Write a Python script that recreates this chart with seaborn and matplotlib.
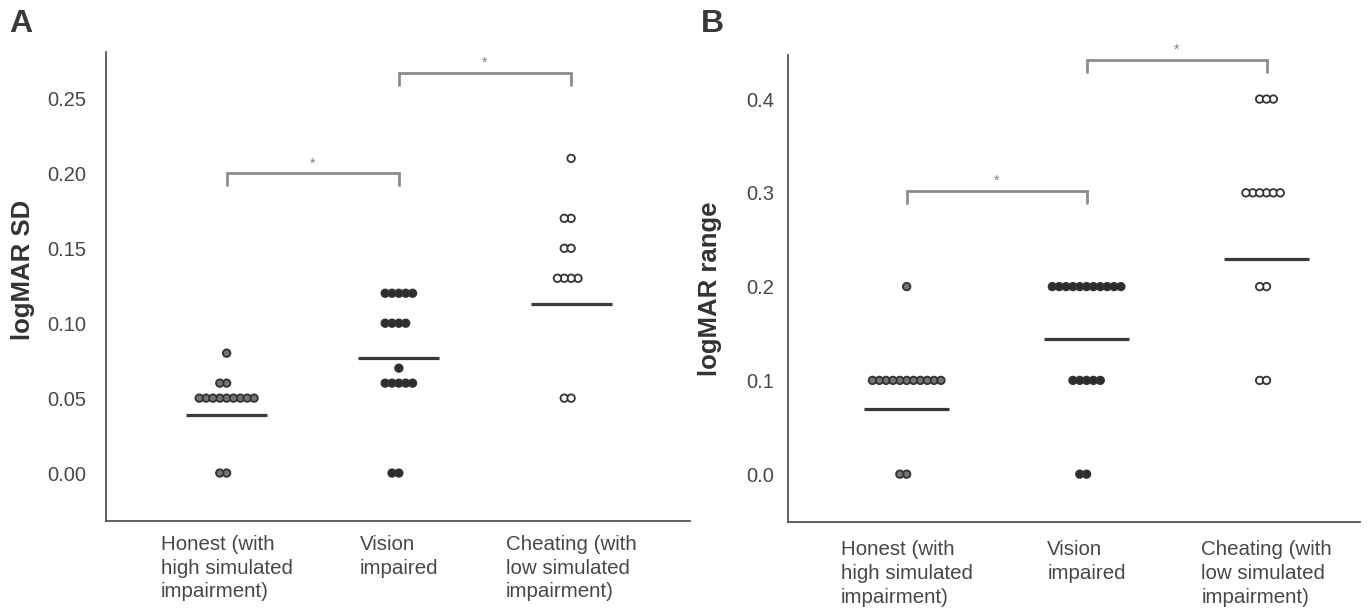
import numpy as np
import pandas as pd
import matplotlib
matplotlib.use("Agg")
import matplotlib.pyplot as plt
from matplotlib.collections import PathCollection
import seaborn as sns

# group names (x tick labels)
groups = ["Honest (with\nhigh simulated\nimpairment)", "Vision\nimpaired",
          "Cheating (with\nlow simulated\nimpairment)"]

# Panel A: logMAR SD per participant
sd_honest = [0.08] + [0.06] * 2 + [0.05] * 9 + [0.00] * 2
sd_vision = [0.12] * 5 + [0.10] * 4 + [0.07] + [0.06] * 5 + [0.00] * 2
sd_cheat = [0.21] + [0.17] * 2 + [0.15] * 2 + [0.13] * 4 + [0.05] * 2
sd_means = [0.039, 0.077, 0.113]

# Panel B: logMAR range per participant
rng_honest = [0.2] + [0.1] * 11 + [0.0] * 2
rng_vision = [0.2] * 11 + [0.1] * 5 + [0.0] * 2
rng_cheat = [0.4] * 3 + [0.3] * 6 + [0.2] * 2 + [0.1] * 2
rng_means = [0.070, 0.144, 0.229]

# significance brackets: (group i, group j, height)
sd_brackets = [(0, 1, 0.200), (1, 2, 0.267)]
rng_brackets = [(0, 1, 0.302), (1, 2, 0.442)]

fills = {groups[0]: "#737373", groups[1]: "#302c2c", groups[2]: "white"}

sns.set_theme(style="white")
plt.rcParams["font.family"] = ["Liberation Sans", "DejaVu Sans"]


def long_form(values_per_group):
    rows = []
    for g, vals in zip(groups, values_per_group):
        rows += [(g, v) for v in vals]
    return pd.DataFrame(rows, columns=["group", "value"])


def draw_panel(ax, df, means, brackets, ylabel, ylim, yticks, fmt, tick_d, xlim):
    # small markers so the swarm packs tightly; enlarged after layout
    sns.swarmplot(data=df, x="group", y="value", hue="group", order=groups,
                  palette=fills, size=3.7, edgecolor="#333333", linewidth=1.0,
                  legend=False, ax=ax)
    for i, m in enumerate(means):
        ax.hlines(m, i - 0.235, i + 0.235, color="#3a3a3a", lw=2.3, zorder=3)
    for i, j, h in brackets:
        ax.plot([i, i, j, j], [h - tick_d, h, h, h - tick_d], color="#8c8c8c",
                lw=2, clip_on=False, solid_joinstyle="miter")
        ax.text((i + j) / 2, h + tick_d * 0.25, "*", ha="center", va="bottom",
                fontsize=10, color="#808080", clip_on=False)
    ax.set_ylim(*ylim)
    ax.set_xlim(*xlim)
    ax.set_yticks(yticks)
    ax.set_yticklabels([fmt.format(t) for t in yticks])
    ax.set_xlabel("")
    ax.set_ylabel(ylabel, fontsize=18.5, fontweight="bold", color="#333333")
    for s in ["top", "right"]:
        ax.spines[s].set_visible(False)
    for s in ["left", "bottom"]:
        ax.spines[s].set_color("#555555")
        ax.spines[s].set_linewidth(1.3)
    ax.tick_params(axis="both", length=0, labelsize=14.5, labelcolor="#474747")
    ax.tick_params(axis="x", labelsize=14.8)
    for t in ax.get_xticklabels():
        t.set_multialignment("left")
        t.set_linespacing(1.32)


fig = plt.figure(figsize=(13.72, 6.09), dpi=100)
axA = fig.add_axes([0.0773, 0.1445, 0.4256, 0.7701])
axB = fig.add_axes([0.5743, 0.1429, 0.4170, 0.7668])

draw_panel(axA, long_form([sd_honest, sd_vision, sd_cheat]), sd_means,
           sd_brackets, "logMAR SD", (-0.032, 0.281),
           [0.00, 0.05, 0.10, 0.15, 0.20, 0.25], "{:.2f}", 0.008, (-0.70, 2.69))
draw_panel(axB, long_form([rng_honest, rng_vision, rng_cheat]), rng_means,
           rng_brackets, "logMAR range", (-0.051, 0.447),
           [0.0, 0.1, 0.2, 0.3, 0.4], "{:.1f}", 0.013, (-0.66, 2.52))

axA.tick_params(axis="y", pad=14)
axA.tick_params(axis="x", pad=10)
axB.tick_params(axis="y", pad=10)
axB.tick_params(axis="x", pad=13)
axA.yaxis.set_label_coords(-0.122, 0.535)
axB.yaxis.set_label_coords(-0.115, 0.5)

fig.text(0.007, 0.985, "A", fontsize=23, fontweight="bold", color="#3a3a3a",
         va="top", ha="left")
fig.text(0.511, 0.985, "B", fontsize=23, fontweight="bold", color="#3a3a3a",
         va="top", ha="left")

# freeze the swarm positions, then grow the dots so neighbours overlap a bit
fig.canvas.draw()
for ax in (axA, axB):
    for c in ax.collections:
        if isinstance(c, PathCollection):
            if "draw" in c.__dict__:
                del c.draw
            c.set_sizes([5.4 ** 2])
            c.set_linewidth(1.3)

fig.savefig("out.png", dpi=100)
